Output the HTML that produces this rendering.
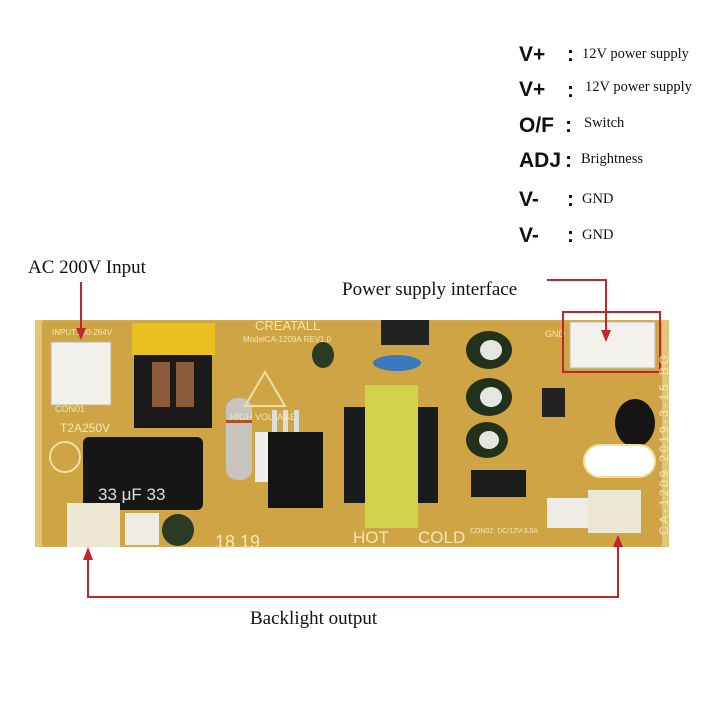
<!DOCTYPE html>
<html><head><meta charset="utf-8"><style>
html,body{margin:0;padding:0;background:#fff;}
svg{display:block;}
.lb{font-family:"Liberation Sans",sans-serif;font-weight:bold;font-size:21px;fill:#111;}
.ds{font-family:"Liberation Serif",serif;font-size:14.5px;fill:#111;}
.big{font-family:"Liberation Serif",serif;font-size:19px;fill:#111;}
.pcb{font-family:"Liberation Sans",sans-serif;fill:#f6e7b0;}
</style></head><body>
<svg width="720" height="720" viewBox="0 0 720 720" xmlns="http://www.w3.org/2000/svg">
<rect width="720" height="720" fill="#fff"/>
<g>
<text class="lb" x="519" y="61">V+</text><text class="lb" x="567" y="61">:</text><text class="ds" x="582" y="58">12V power supply</text>
<text class="lb" x="519" y="96">V+</text><text class="lb" x="567" y="97">:</text><text class="ds" x="585" y="91">12V power supply</text>
<text class="lb" x="519" y="132">O/F</text><text class="lb" x="565" y="132">:</text><text class="ds" x="584" y="127">Switch</text>
<text class="lb" x="519" y="167">ADJ</text><text class="lb" x="565" y="167">:</text><text class="ds" x="581" y="163">Brightness</text>
<text class="lb" x="519" y="206">V-</text><text class="lb" x="567" y="206">:</text><text class="ds" x="582" y="203">GND</text>
<text class="lb" x="519" y="242">V-</text><text class="lb" x="567" y="242">:</text><text class="ds" x="582" y="239">GND</text>
</g>
<text class="big" x="28" y="273">AC 200V Input</text>
<text class="big" x="342" y="295">Power supply interface</text>
<text class="big" x="250" y="624">Backlight output</text>

<rect x="35" y="320" width="634" height="227" rx="6" fill="#d1a94f"/>
<rect x="35" y="320" width="8" height="227" fill="#e3c57a"/>
<rect x="661" y="320" width="8" height="227" fill="#e3c57a"/>
<rect x="42" y="322" width="620" height="223" fill="#cfa445"/>
<rect x="51" y="342" width="60" height="63" fill="#f2f0ea" stroke="#bdb6a5"/>
<text class="pcb" x="52" y="335" font-size="8">INPUT:100-264V</text>
<text class="pcb" x="55" y="412" font-size="9">CON01</text>
<text class="pcb" x="60" y="432" font-size="12">T2A250V</text>
<rect x="132" y="323" width="83" height="32" fill="#e9c020"/>
<rect x="134" y="355" width="78" height="73" fill="#1a1a1a"/>
<rect x="152" y="362" width="18" height="45" fill="#8a5a3a"/>
<rect x="176" y="362" width="18" height="45" fill="#8a5a3a"/>
<rect x="83" y="437" width="120" height="73" rx="6" fill="#161616"/>
<text x="98" y="500" font-family="Liberation Sans,sans-serif" font-size="17" fill="#ddd">33 μF  33</text>
<circle cx="65" cy="457" r="15" fill="none" stroke="#f0dfa0" stroke-width="2"/>
<rect x="226" y="398" width="26" height="82" rx="11" fill="#c8c4bd"/>
<rect x="226" y="420" width="26" height="3" fill="#b0502a"/>
<rect x="255" y="432" width="14" height="50" fill="#eee"/>
<rect x="268" y="432" width="55" height="76" fill="#151515"/>
<rect x="272" y="410" width="5" height="22" fill="#ddd"/><rect x="283" y="410" width="5" height="22" fill="#ddd"/><rect x="294" y="410" width="5" height="22" fill="#ddd"/>
<polygon points="265,372 245,406 285,406" fill="none" stroke="#f0dfa0" stroke-width="2"/>
<text class="pcb" x="230" y="420" font-size="9">HIGH VOLTAGE</text>
<text class="pcb" x="255" y="330" font-size="13">CREATALL</text>
<text class="pcb" x="243" y="342" font-size="8">ModelCA-1209A REV1.0</text>
<ellipse cx="323" cy="355" rx="11" ry="13" fill="#2b3a22"/>
<rect x="381" y="320" width="48" height="25" fill="#222"/>
<ellipse cx="397" cy="363" rx="24" ry="8" fill="#3c78c0"/>
<rect x="344" y="407" width="94" height="96" fill="#1b1b1b"/>
<rect x="365" y="385" width="53" height="143" fill="#cfd24a"/>
<text class="pcb" x="353" y="543" font-size="17">HOT</text>
<text class="pcb" x="418" y="543" font-size="17">COLD</text>
<text class="pcb" x="215" y="548" font-size="18">18 19</text>
<ellipse cx="489" cy="350" rx="23" ry="19" fill="#23301c"/><ellipse cx="491" cy="350" rx="11" ry="10" fill="#e6e6e0"/>
<ellipse cx="489" cy="397" rx="23" ry="19" fill="#23301c"/><ellipse cx="491" cy="397" rx="11" ry="10" fill="#e6e6e0"/>
<ellipse cx="487" cy="440" rx="21" ry="18" fill="#23301c"/><ellipse cx="489" cy="440" rx="10" ry="9" fill="#e6e6e0"/>
<rect x="471" y="470" width="55" height="27" fill="#1c1c1c"/>
<rect x="542" y="388" width="23" height="29" fill="#222"/>
<text class="pcb" x="545" y="337" font-size="9">GND</text>
<rect x="570" y="322" width="85" height="46" fill="#f3f1ec" stroke="#bbb"/>
<rect x="563" y="312" width="97" height="60" fill="none" stroke="#c0272d" stroke-width="2"/>
<ellipse cx="635" cy="423" rx="20" ry="24" fill="#151515"/>
<rect x="584" y="445" width="71" height="32" rx="16" fill="#fff" stroke="#f0dfa0" stroke-width="2"/>
<rect x="547" y="498" width="41" height="30" fill="#eeece5"/>
<rect x="588" y="490" width="53" height="43" fill="#ece6d4"/>
<text class="pcb" x="470" y="533" font-size="7">CON02: DC/12V-3.0A</text>
<rect x="67" y="503" width="53" height="44" fill="#ece6d4"/>
<rect x="125" y="513" width="34" height="32" fill="#eeece5"/>
<circle cx="178" cy="530" r="16" fill="#2b3a22"/>
<text class="pcb" font-size="12" transform="translate(668,535) rotate(-90)" textLength="180" lengthAdjust="spacing">CA-1209   2019-3-15   BG</text>

<g stroke="#c0272d" stroke-width="2" fill="none">
<polyline points="81,282 81,330"/>
<polyline points="547,280 606,280 606,332"/>
<polyline points="88,557 88,597 618,597 618,545"/>
</g>
<g fill="#c0272d">
<polygon points="76,328 86,328 81,340"/>
<polygon points="601,330 611,330 606,342"/>
<polygon points="83,560 93,560 88,547"/>
<polygon points="613,547 623,547 618,535"/>
</g>
</svg>
</body></html>
